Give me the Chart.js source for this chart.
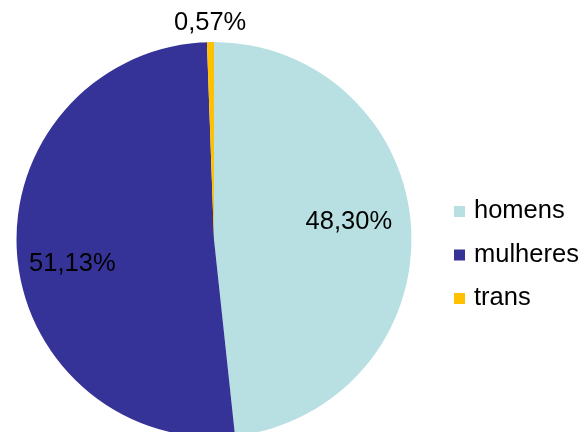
<!DOCTYPE html>
<html>
<head>
<meta charset="utf-8">
<script src="https://cdn.jsdelivr.net/npm/chart.js@4"></script>
<style>
  html, body { margin: 0; padding: 0; background: #fff; }
  #frame { position: relative; width: 585px; height: 432px; overflow: hidden; }
  #wrap { position: relative; width: 585px; height: 440px; }
</style>
</head>
<body>
<div id="frame"><div id="wrap"><canvas id="pie-chart"></canvas></div></div>
<script>
const categories = ['homens', 'mulheres', 'trans'];
const shares = [48.30, 51.13, 0.57];
const labelTexts = ['48,30%', '51,13%', '0,57%'];
const colors = ['#b8e0e3', '#363398', '#ffc000'];

// label placement: distance from centre and small vertical nudge
const labelRadius = [135, 142, 217];
const labelNudge = [-10, 14, 0];

const FONT = '25.5px "Liberation Sans", Arial, sans-serif';

const labelsAndLegend = {
    id: 'labelsAndLegend',
    afterDraw(chart) {
        const ctx = chart.ctx;
        const arcs = chart.getDatasetMeta(0).data;
        ctx.save();
        ctx.font = FONT;
        ctx.fillStyle = '#000';
        ctx.textAlign = 'center';
        ctx.textBaseline = 'middle';
        arcs.forEach((arc, i) => {
            const mid = (arc.startAngle + arc.endAngle) / 2;
            const x = arc.x + Math.cos(mid) * labelRadius[i];
            const y = arc.y + Math.sin(mid) * labelRadius[i] + labelNudge[i];
            ctx.fillText(labelTexts[i], x, y);
        });

        // legend on the right
        ctx.textAlign = 'left';
        categories.forEach((name, i) => {
            const y = 211 + i * 43.5;
            ctx.fillStyle = colors[i];
            ctx.fillRect(454, y - 5, 11, 11);
            ctx.fillStyle = '#000';
            ctx.fillText(name, 474, y);
        });
        ctx.restore();
    }
};

new Chart(document.querySelector('#pie-chart').getContext('2d'), {
    type: 'pie',
    data: {
        labels: categories,
        datasets: [{
            data: shares,
            backgroundColor: colors,
            borderWidth: 0
        }]
    },
    options: {
        responsive: true,
        maintainAspectRatio: false,
        animation: false,
        layout: { padding: { left: 16.5, right: 173.5, top: 42, bottom: 3 } },
        plugins: {
            legend: { display: false },
            tooltip: { enabled: false }
        }
    },
    plugins: [labelsAndLegend]
});
</script>
</body>
</html>
